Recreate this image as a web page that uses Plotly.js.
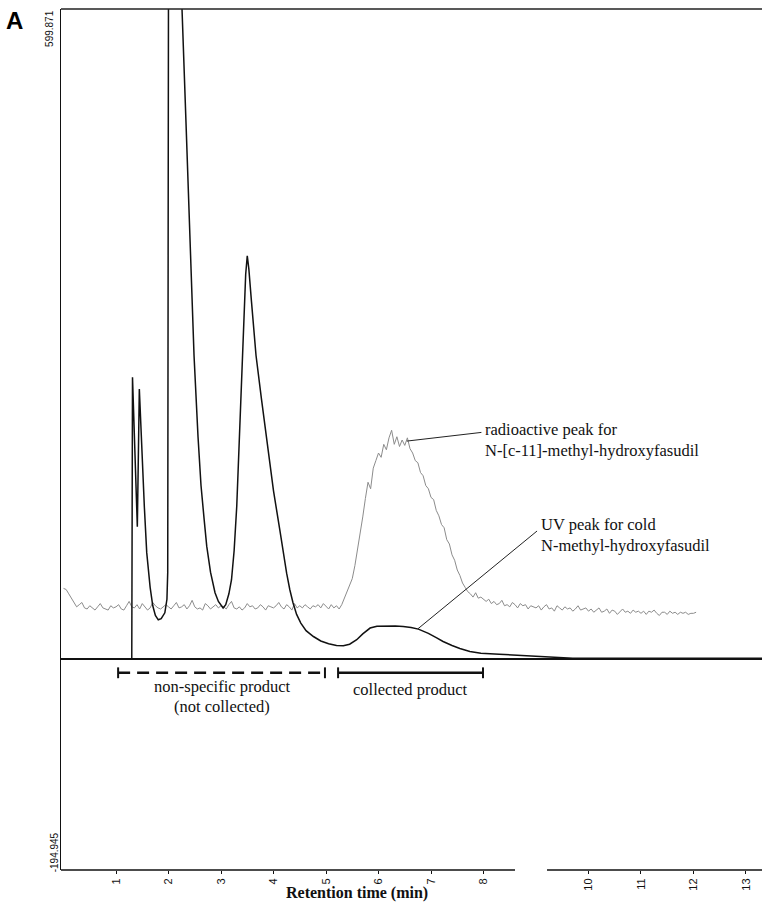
<!DOCTYPE html>
<html>
<head>
<meta charset="utf-8">
<script src="https://cdn.plot.ly/plotly-3.0.1.min.js"></script>
<style>html,body{margin:0;padding:0;background:#fff;}#chart{width:762px;height:905px;}</style>
</head>
<body>
<div id="chart"></div>
<script>
// ---- data ----
const uvX = [0, 1.30, 1.314, 1.36, 1.406, 1.444, 1.49, 1.54, 1.585, 1.65, 1.70, 1.75, 1.805, 1.86, 1.93, 1.97, 1.985, 2.0, 2.13, 2.257, 2.333, 2.41, 2.486, 2.562, 2.619, 2.68, 2.728, 2.80, 2.886, 2.95, 3.0, 3.04, 3.09, 3.15, 3.20, 3.25, 3.30, 3.35, 3.394, 3.44, 3.47, 3.50, 3.53, 3.58, 3.667, 3.77, 3.87, 4.0, 4.12, 4.19, 4.25, 4.31, 4.37, 4.44, 4.52, 4.62, 4.76, 4.9, 5.05, 5.2, 5.33, 5.45, 5.585, 5.7, 5.84, 5.97, 6.16, 6.32, 6.47, 6.62, 6.76, 6.95, 7.1, 7.23, 7.4, 7.55, 7.74, 7.95, 8.3, 8.82, 9.3, 9.7, 13.4];
const uvY = [0, 0, 260, 190, 122, 249, 193, 140, 98, 66, 49, 40, 36, 37, 42.5, 55, 80, 650, 1000, 600, 495, 387, 280, 205, 160, 128, 104, 80, 61, 53, 49, 47, 50, 60, 73, 100, 141, 205, 264, 325, 355, 372, 360, 330, 280, 240, 202, 155, 119, 96, 79, 64, 52, 41, 33, 26, 20.6, 16.5, 14, 12.3, 12, 13.5, 17.6, 23, 28.4, 30, 30.5, 30.4, 29.9, 29, 27.4, 23.5, 19.5, 16, 12.3, 9.5, 6.8, 5.2, 4.3, 2.8, 1.2, 0.5, 0.5];

// radioactivity detector trace, sampled every 0.05 min from 0 min
const radStart = 0;
const radStep = 0.05;
const radY = [
  65,64,60,56,51,48,50,52,47,46,49,47,45,48,51,47,46,45,49,47,
  48,50,46,45,49,53,48,47,50,46,51,48,45,47,52,49,47,46,48,50,
  48,46,49,52,47,48,50,46,49,54,48,46,47,45,51,49,46,48,50,47,
  49,48,46,50,53,47,46,48,45,47,51,48,49,46,47,50,48,45,49,48,
  47,49,52,48,46,50,48,45,51,47,49,47,50,48,46,49,48,50,47,51,
  48,46,50,47,49,46,50,56,62,68,74,86,100,117,131,148,163,157,176,183,
  190,186,198,193,204,211,198,205,196,202,197,204,194,190,183,181,172,169,160,157,
  149,147,137,132,124,121,110,106,96,91,82,77,70,66,62,60,57,61,56,57,
  55,53,55,51,53,50,51,54,49,50,48,52,50,47,51,49,50,46,49,48,
  47,49,45,48,50,46,47,44,49,47,45,48,46,47,44,46,49,45,46,47,
  44,46,43,45,47,43,44,46,42,45,44,41,44,46,43,44,42,45,43,44,
  42,44,41,44,43,45,42,40,43,43,41,44,42,43,41,43,42,43,41,42,
  42,43
];

const xTickVals = [1, 2, 3, 4, 5, 6, 7, 8, 10, 11, 12, 13];
const xTickText = ['1', '2', '3', '4', '5', '6', '7', '8', '10', '11', '12', '13'];
const yMax = 599.871;
const yMin = -194.945;
const nonSpecificRange = [1.04, 4.98];
const collectedRange = [5.23, 7.99];
const axisGap = [8.6, 9.21];
const xRange = [-0.048, 13.305];

// ---- traces ----
const traces = [
  {
    type: 'scatter', mode: 'lines', x0: radStart, dx: radStep, y: radY,
    line: {color: '#8c8c8c', width: 1}, hoverinfo: 'skip', showlegend: false
  },
  {
    type: 'scatter', mode: 'lines', x: uvX, y: uvY,
    line: {color: '#111', width: 1.5}, hoverinfo: 'skip', showlegend: false
  }
];

const serif = 'Liberation Serif, Times New Roman, serif';
const sans = 'Liberation Sans, Arial, sans-serif';
const bracketY = -12.9;
const capH = 5;

const shapes = [
  // bottom axis with gap
  {type: 'line', xref: 'x', yref: 'paper', x0: xRange[0], x1: axisGap[0], y0: 0, y1: 0, line: {color: '#111', width: 1.5}},
  {type: 'line', xref: 'x', yref: 'paper', x0: axisGap[1], x1: xRange[1], y0: 0, y1: 0, line: {color: '#111', width: 1.5}},
  // top border
  {type: 'line', xref: 'paper', yref: 'paper', x0: 0, x1: 1, y0: 1, y1: 1, line: {color: '#222', width: 1.3}},
  // non-specific bracket (dashed)
  {type: 'line', xref: 'x', yref: 'y', x0: nonSpecificRange[0], x1: nonSpecificRange[1], y0: bracketY, y1: bracketY, line: {color: '#111', width: 2.5, dash: '12px,7px'}},
  {type: 'line', xref: 'x', yref: 'y', x0: nonSpecificRange[0], x1: nonSpecificRange[0], y0: bracketY - capH, y1: bracketY + capH, line: {color: '#111', width: 2}},
  {type: 'line', xref: 'x', yref: 'y', x0: nonSpecificRange[1], x1: nonSpecificRange[1], y0: bracketY - capH, y1: bracketY + capH, line: {color: '#111', width: 2}},
  // collected bracket (solid)
  {type: 'line', xref: 'x', yref: 'y', x0: collectedRange[0], x1: collectedRange[1], y0: bracketY, y1: bracketY, line: {color: '#111', width: 2.5}},
  {type: 'line', xref: 'x', yref: 'y', x0: collectedRange[0], x1: collectedRange[0], y0: bracketY - capH, y1: bracketY + capH, line: {color: '#111', width: 2}},
  {type: 'line', xref: 'x', yref: 'y', x0: collectedRange[1], x1: collectedRange[1], y0: bracketY - capH, y1: bracketY + capH, line: {color: '#111', width: 2}},
  // leader lines
  {type: 'line', xref: 'x', yref: 'y', x0: 6.54, y0: 201, x1: 7.96, y1: 209, line: {color: '#222', width: 1}},
  {type: 'line', xref: 'x', yref: 'y', x0: 6.75, y0: 27.7, x1: 9.02, y1: 118, line: {color: '#222', width: 1}}
];

const tf = {family: serif, size: 16.5, color: '#111'};
const annotations = [
  {text: 'radioactive peak for', x: 7.99, y: 211.5, xref: 'x', yref: 'y', xanchor: 'left', yanchor: 'middle', showarrow: false, font: tf},
  {text: 'N-[c-11]-methyl-hydroxyfasudil', x: 7.99, y: 192.5, xref: 'x', yref: 'y', xanchor: 'left', yanchor: 'middle', showarrow: false, font: tf},
  {text: 'UV peak for cold', x: 9.05, y: 124, xref: 'x', yref: 'y', xanchor: 'left', yanchor: 'middle', showarrow: false, font: tf},
  {text: 'N-methyl-hydroxyfasudil', x: 9.05, y: 105, xref: 'x', yref: 'y', xanchor: 'left', yanchor: 'middle', showarrow: false, font: tf},
  {text: 'non-specific product', x: 3.02, y: -25.5, xref: 'x', yref: 'y', xanchor: 'center', yanchor: 'middle', showarrow: false, font: tf},
  {text: '(not collected)', x: 3.02, y: -44, xref: 'x', yref: 'y', xanchor: 'center', yanchor: 'middle', showarrow: false, font: tf},
  {text: 'collected product', x: 6.6, y: -28.6, xref: 'x', yref: 'y', xanchor: 'center', yanchor: 'middle', showarrow: false, font: tf},
  {text: '<b>Retention time (min)</b>', x: 5.59, y: -0.027, xref: 'x', yref: 'paper', xanchor: 'center', yanchor: 'middle', showarrow: false, font: {family: serif, size: 16, color: '#111'}},
  {text: '<b>A</b>', x: -0.067, y: 0.987, xref: 'paper', yref: 'paper', xanchor: 'center', yanchor: 'middle', showarrow: false, font: {family: sans, size: 24, color: '#000'}},
  {text: String(yMax), x: -0.0157, y: 0.978, xref: 'paper', yref: 'paper', xanchor: 'center', yanchor: 'middle', textangle: -90, showarrow: false, font: {family: sans, size: 10, color: '#111'}},
  {text: String(yMin), x: -0.008, y: 0.021, xref: 'paper', yref: 'paper', xanchor: 'center', yanchor: 'middle', textangle: -90, showarrow: false, font: {family: sans, size: 10, color: '#111'}}
];

const layout = {
  width: 762, height: 905,
  margin: {l: 61, r: 0, t: 9, b: 35, pad: 0},
  paper_bgcolor: '#fff', plot_bgcolor: '#fff',
  showlegend: false,
  xaxis: {
    range: xRange, showgrid: false, zeroline: false, showline: false,
    tickmode: 'array', tickvals: xTickVals, ticktext: xTickText, tickangle: -90,
    ticks: 'outside', ticklen: 3, tickcolor: '#111', tickwidth: 1,
    tickfont: {family: sans, size: 11, color: '#111'}, fixedrange: true
  },
  yaxis: {
    range: [yMin, yMax], showgrid: false, showticklabels: false, ticks: '',
    zeroline: true, zerolinecolor: '#111', zerolinewidth: 1.8,
    showline: true, linecolor: '#111', linewidth: 1.5, fixedrange: true
  },
  shapes: shapes,
  annotations: annotations
};

Plotly.newPlot('chart', traces, layout, {staticPlot: true, displayModeBar: false});
</script>
</body>
</html>
